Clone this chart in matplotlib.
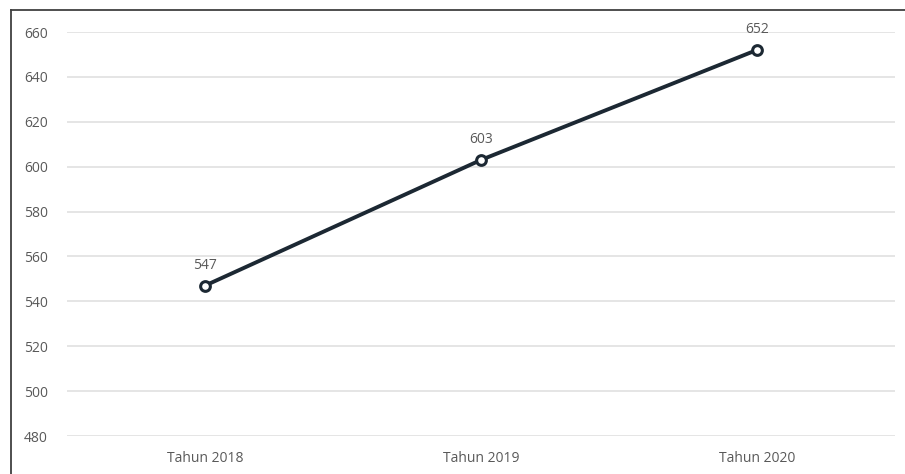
import matplotlib
matplotlib.use('Agg')
import matplotlib.pyplot as plt
from matplotlib.lines import Line2D

plt.rcParams['font.family'] = ['Open Sans', 'DejaVu Sans']

# data
categories = ['Tahun 2018', 'Tahun 2019', 'Tahun 2020']
values = [547, 603, 652]
yticks = [480, 500, 520, 540, 560, 580, 600, 620, 640, 660]

fig = plt.figure(figsize=(9.05, 4.74), dpi=100)
ax = fig.add_axes([67/905, 1 - 436/474, 828/905, (436 - 32)/474])

x = list(range(len(categories)))
ax.plot(x, values, color='#1c2833', lw=2.8, marker='o', markersize=7,
        markerfacecolor='white', markeredgecolor='#1c2833', markeredgewidth=2.2,
        zorder=3, clip_on=False)
for xi, v in zip(x, values):
    ax.annotate(str(v), (xi, v), xytext=(0, 9), textcoords='offset points',
                ha='center', va='bottom', fontsize=10, color='#595959')

ax.set_xlim(-0.5, 2.5)
ax.set_ylim(480, 660)
ax.set_yticks(yticks)
ax.set_xticks(x)
ax.set_xticklabels(categories)
ax.grid(axis='y', color='#e3e3e3', lw=1.3)
ax.set_axisbelow(True)
for s in ax.spines.values():
    s.set_visible(False)
ax.tick_params(length=0, labelsize=10, labelcolor='#595959')
ax.tick_params(axis='y', pad=31)
for lab in ax.get_yticklabels():
    lab.set_horizontalalignment('left')
ax.tick_params(axis='x', pad=11)

# outer border (top and left only visible)
fig.add_artist(Line2D([11/905, 11/905], [0, 1 - 10/474], transform=fig.transFigure,
                      color='#404040', lw=1.3))
fig.add_artist(Line2D([11/905, 1], [1 - 10/474, 1 - 10/474], transform=fig.transFigure,
                      color='#404040', lw=1.3))

plt.savefig('out.png', dpi=100)
